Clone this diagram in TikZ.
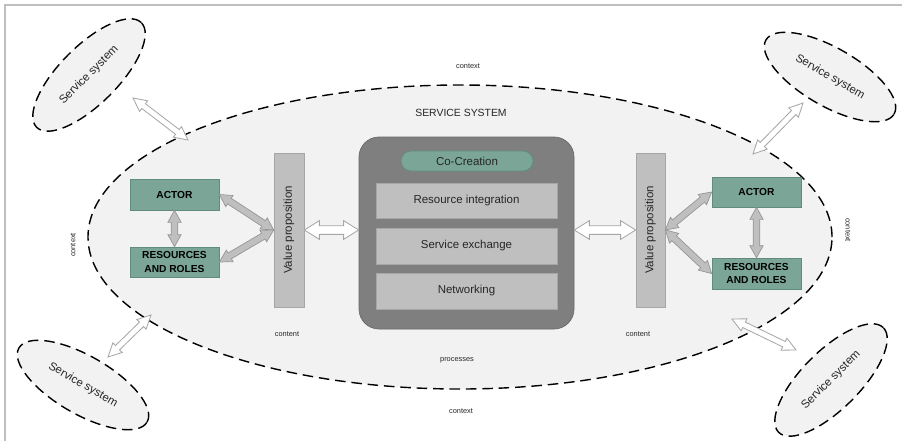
\documentclass[tikz,border=0pt]{standalone}
\usepackage{fontspec}
\setmainfont{Liberation Sans}
\usetikzlibrary{calc,shapes.geometric}
\definecolor{teal1}{RGB}{122,165,151}
\definecolor{teal2}{RGB}{95,140,125}
\definecolor{lgray}{RGB}{191,191,191}
\definecolor{lgrayb}{RGB}{166,166,166}
\definecolor{arrb}{RGB}{150,150,150}
\definecolor{dgray}{RGB}{127,127,127}
\definecolor{dgrayb}{RGB}{105,105,105}
\definecolor{ellfill}{RGB}{242,242,242}
\definecolor{txt}{RGB}{38,38,38}
\definecolor{framec}{RGB}{191,191,191}
% #1 style, #2 start, #3 end, #4 head length, #5 head half width, #6 shaft half width
\newcommand\dblarrow[6]{%
\draw[#1] (#2) -- ($(#2)!#4!(#3)!#5!90:(#3)$) -- ($(#2)!#4!(#3)!#6!90:(#3)$)
 -- ($(#3)!#4!(#2)!#6!-90:(#2)$) -- ($(#3)!#4!(#2)!#5!-90:(#2)$) -- (#3)
 -- ($(#3)!#4!(#2)!#5!90:(#2)$) -- ($(#3)!#4!(#2)!#6!90:(#2)$)
 -- ($(#2)!#4!(#3)!#6!-90:(#3)$) -- ($(#2)!#4!(#3)!#5!-90:(#3)$) -- cycle;}
\begin{document}
\begin{tikzpicture}[x=0.03cm,y=-0.03cm,
  dashell/.style={draw=black, fill=ellfill, line width=1.2pt, dash pattern=on 9pt off 5pt, ellipse, inner sep=0pt},
  smallell/.style={dashell, minimum width=4.44cm, minimum height=1.74cm, font=\fontsize{9.8}{11}\selectfont, text=txt},
  tealbox/.style={draw=teal2, fill=teal1, line width=0.6pt, minimum width=2.67cm, inner sep=0pt, align=center, font=\fontsize{8.7}{11.5}\selectfont\bfseries, text=black},
  graybox/.style={draw=lgrayb, fill=lgray, line width=0.6pt, inner sep=0pt},
  procbox/.style={graybox, minimum width=5.43cm, font=\fontsize{9.8}{11}\selectfont, text=txt},
  hollow/.style={draw=lgrayb, fill=white, line width=0.7pt},
  solidarr/.style={draw=arrb, fill=lgray, line width=0.6pt},
  smalltxt/.style={font=\fontsize{6.3}{7}\selectfont, text=txt, inner sep=0pt},
  maintxt/.style={font=\fontsize{9.8}{11}\selectfont, text=txt, inner sep=0pt}]
\useasboundingbox (0,0) rectangle (907,441);
\draw[framec, line width=1pt] (5,441) -- (5,5) -- (902,5);

% main ellipse
\node[dashell, minimum width=22.32cm, minimum height=9.12cm] (main) at (460,237) {};

% small service systems
\node[smallell, rotate=45] (sTL) at (89,75) {Service system};
\node[smallell, rotate=-30] (sTR) at (830,77) {Service system};
\node[smallell, rotate=-30] (sBL) at (83,385) {Service system};
\node[smallell, rotate=45] (sBR) at (831,380) {Service system};

% labels
\node[smalltxt] (ctxT) at (468,66) {context};
\node[smalltxt] (ctxB) at (461,411) {context};
\node[smalltxt, rotate=90] (ctxL) at (73,245) {context};
\node[smalltxt, rotate=-90] (ctxR) at (848,230) {context};
\node[smalltxt] (contL) at (287,334) {content};
\node[smalltxt] (contR) at (638,334) {content};
\node[smalltxt] (proc) at (457,360) {processes};
\node[font=\fontsize{8.9}{10}\selectfont, text=txt, inner sep=0pt] (title) at (461,113) {SERVICE SYSTEM};

% center co-creation box
\node[draw=dgrayb, fill=dgray, line width=0.6pt, rounded corners=0.6cm, minimum width=6.45cm, minimum height=5.76cm, inner sep=0pt] (cc) at (466.5,233) {};
\node[draw=teal2, fill=teal1, line width=0.6pt, rounded corners=0.3cm, minimum width=3.96cm, minimum height=0.6cm, inner sep=0pt, font=\fontsize{9.8}{11}\selectfont, text=txt] (co) at (467,161) {Co-Creation};
\node[procbox, minimum height=1.05cm] (ri) at (466.5,200.5) {Resource integration};
\node[procbox, minimum height=1.08cm] (se) at (466.5,246) {Service exchange};
\node[procbox, minimum height=1.08cm] (nw) at (466.5,291) {Networking};

% left actor side
\node[graybox, minimum width=0.9cm, minimum height=4.62cm] (vpL) at (289,230) {};
\node[maintxt, rotate=90] (vpLt) at (vpL) {Value proposition};
\node[tealbox, minimum height=0.93cm] (actL) at (174.5,194.5) {ACTOR};
\node[tealbox, minimum height=0.9cm] (resL) at (174.5,262) {RESOURCES\\AND ROLES};

% right actor side
\node[graybox, minimum width=0.87cm, minimum height=4.62cm] (vpR) at (650.5,230) {};
\node[maintxt, rotate=90] (vpRt) at (vpR) {Value proposition};
\node[tealbox, minimum height=0.9cm] (actR) at (756.5,192) {ACTOR};
\node[tealbox, minimum height=0.93cm] (resR) at (756.5,273.5) {RESOURCES\\AND ROLES};

% solid gray arrows
\dblarrow{solidarr}{actL.east}{vpL.west}{0.36cm}{0.2cm}{0.1cm}
\dblarrow{solidarr}{resL.east}{vpL.west}{0.36cm}{0.2cm}{0.1cm}
\dblarrow{solidarr}{actL.south}{resL.north}{0.36cm}{0.2cm}{0.1cm}
\dblarrow{solidarr}{vpR.east}{actR.west}{0.36cm}{0.2cm}{0.1cm}
\dblarrow{solidarr}{vpR.east}{resR.west}{0.36cm}{0.2cm}{0.1cm}
\dblarrow{solidarr}{actR.south}{resR.north}{0.36cm}{0.2cm}{0.1cm}

% hollow horizontal arrows
\coordinate (hL) at (cc.west |- vpL.east);
\coordinate (hR) at (cc.east |- vpR.west);
\dblarrow{hollow}{vpL.east}{hL}{0.45cm}{0.28cm}{0.13cm}
\dblarrow{hollow}{hR}{vpR.west}{0.45cm}{0.28cm}{0.13cm}

% hollow diagonal arrows
\coordinate (tl1) at (133,98);
\coordinate (tl2) at (188,140);
\coordinate (tr1) at (803,103);
\coordinate (tr2) at (753,154);
\coordinate (bl1) at (151,315);
\coordinate (bl2) at (108,357);
\coordinate (br1) at (732,319);
\coordinate (br2) at (796,350);
\dblarrow{hollow}{tl1}{tl2}{0.4cm}{0.2cm}{0.09cm}
\dblarrow{hollow}{tr1}{tr2}{0.4cm}{0.2cm}{0.09cm}
\dblarrow{hollow}{bl1}{bl2}{0.4cm}{0.2cm}{0.09cm}
\dblarrow{hollow}{br1}{br2}{0.4cm}{0.2cm}{0.09cm}
\end{tikzpicture}
\end{document}
